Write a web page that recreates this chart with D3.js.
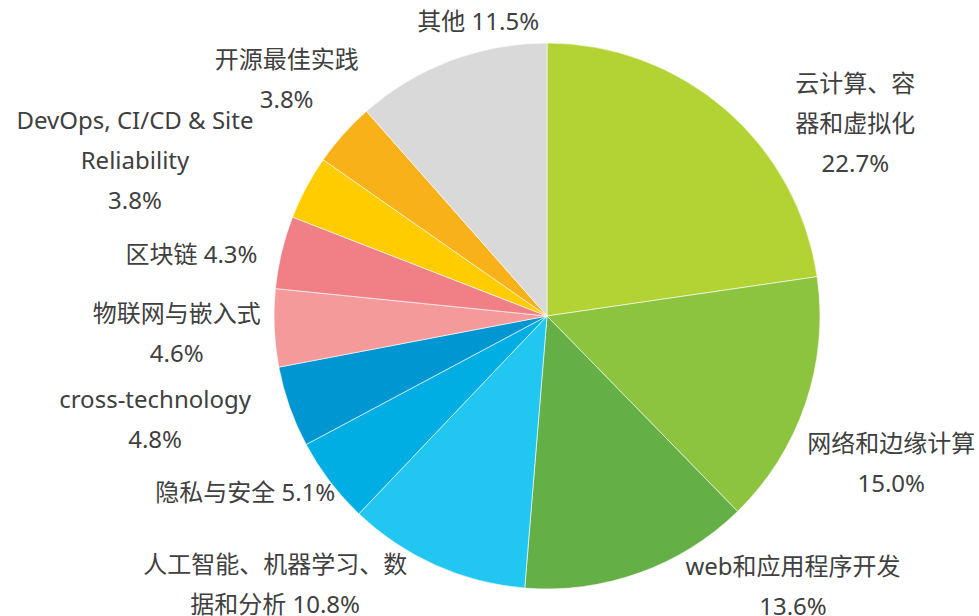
<!DOCTYPE html>
<html>
<head>
<meta charset="utf-8">
<script src="https://cdn.jsdelivr.net/npm/d3@7"></script>
<style>
  body { margin: 0; background: #fff; }
  text { font-family: "Noto Sans", "Noto Sans CJK SC", sans-serif; font-size: 24px; fill: #404040; }
</style>
</head>
<body>
<div class="chart"></div>
<script>
// data
const categories = [
  ["云计算、容", "器和虚拟化"],
  ["网络和边缘计算"],
  ["web和应用程序开发"],
  ["人工智能、机器学习、数", "据和分析"],
  ["隐私与安全"],
  ["cross-technology"],
  ["物联网与嵌入式"],
  ["区块链"],
  ["DevOps, CI/CD & Site", "Reliability"],
  ["开源最佳实践"],
  ["其他"]
];
const shares = [22.7, 15.0, 13.6, 10.8, 5.1, 4.8, 4.6, 4.3, 3.8, 3.8, 11.5];
// does the percentage sit on its own line or after the last name line
const pctOwnLine = [true, true, true, false, false, true, true, false, true, true, false];

// style / layout
const colors = ["#b3d335", "#8cc43f", "#65b046", "#21c7f0", "#00aee3", "#0096d1",
                "#f49a9a", "#f18086", "#ffcc00", "#f9b11a", "#d9d9d9"];
// nudges of each label from its mid-angle anchor
const labelNudge = [[94, 55], [34, 42], [135, -38], [-138, -30], [-41, -22], [-83, -5],
                    [-43, 3], [-37, 15], [-123, -1], [-16, -18], [47, 12]];

const width = 979, height = 616;
const cx = 547, cy = 316, radius = 273;
const lineH = 40;

const svg = d3.select(".chart")
              .append("svg")
              .attr("width", width)
              .attr("height", height);
const g = svg.append("g")
             .attr("transform", `translate(${cx},${cy})`);

const pie = d3.pie().sort(null).value(d => d);
const arcs = pie(shares);
const arc = d3.arc().innerRadius(0).outerRadius(radius);
const labelArc = d3.arc().innerRadius(radius * 1.2).outerRadius(radius * 1.2);

g.selectAll("path")
 .data(arcs)
 .join("path")
 .attr("d", arc)
 .attr("fill", (d, i) => colors[i])
 .attr("stroke", "#fff")
 .attr("stroke-width", 0.6);

arcs.forEach((d, i) => {
    const pct = d3.format(".1f")(shares[i]) + "%";
    let lines = categories[i].slice();
    if (pctOwnLine[i]) lines.push(pct);
    else lines[lines.length - 1] += " " + pct;
    const [ax, ay] = labelArc.centroid(d);
    const x = ax + labelNudge[i][0];
    const y = ay + labelNudge[i][1] - (lines.length - 1) * lineH / 2;
    const t = g.append("text")
               .attr("text-anchor", "middle")
               .attr("x", x)
               .attr("y", y);
    lines.forEach((s, k) => {
        t.append("tspan")
         .attr("x", x)
         .attr("y", y + k * lineH)
         .attr("dy", "0.35em")
         .text(s);
    });
});
</script>
</body>
</html>
